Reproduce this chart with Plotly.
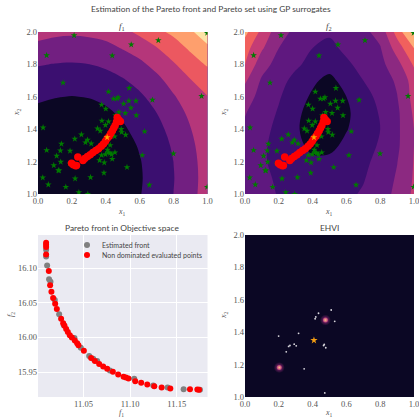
import plotly.graph_objects as go

grid_x1 = [0.0, 0.1, 0.2, 0.3, 0.4, 0.5, 0.6, 0.7, 0.8, 0.9, 1.0]
grid_x2 = [1.0, 1.1, 1.2, 1.3, 1.4, 1.5, 1.6, 1.7, 1.8, 1.9, 2.0]

f1_grid = [
    [.32, .165, .112, .165, .32, .586, .954, 1.428, 2.007, 2.691, 3.45],
    [.284, .127, .074, .127, .284, .548, .916, 1.39, 1.969, 2.653, 3.42],
    [.32, .165, .112, .165, .32, .586, .954, 1.428, 2.007, 2.691, 3.45],
    [.436, .279, .226, .279, .436, .70, 1.068, 1.542, 2.121, 2.805, 3.5],
    [.626, .469, .416, .469, .626, .89, 1.258, 1.732, 2.311, 2.97, 3.6],
    [.82, .72, .67, .72, .86, 1.13, 1.52, 1.998, 2.577, 3.2, 3.75],
    [1.12, 1.03, .98, 1.03, 1.17, 1.45, 1.85, 2.341, 2.92, 3.5, 3.97],
    [1.6, 1.48, 1.442, 1.495, 1.652, 1.916, 2.284, 2.76, 3.35, 3.95, 4.4],
    [2.05, 1.97, 1.937, 1.99, 2.147, 2.411, 2.8, 3.28, 3.9, 4.55, 5.1],
    [2.72, 2.561, 2.508, 2.561, 2.718, 3.05, 3.4, 3.95, 4.55, 5.15, 5.8],
    [3.36, 3.206, 3.15, 3.206, 3.35, 3.72, 4.22, 4.78, 5.2, 5.85, 6.6],
]
f2_grid = [
    [2.85, 2.4, 1.92, 1.78, 1.68, 1.68, 1.82, 2.1, 2.63, 3.2, 4.2],
    [2.7, 2.15, 1.9, 1.7, 1.5, 1.5, 1.7, 1.93, 2.45, 3.1, 4.1],
    [2.6, 2.1, 1.78, 1.47, 1.17, 1.22, 1.5, 1.78, 2.3, 2.97, 4.05],
    [2.7, 2.16, 1.69, 1.23, .78, .75, 1.21, 1.64, 2.1, 2.82, 4.0],
    [2.85, 2.32, 1.73, 1.12, .6, .38, .95, 1.47, 2.0, 2.8, 4.0],
    [3.05, 2.49, 1.9, 1.2, .65, .2, .85, 1.45, 2.08, 2.8, 4.15],
    [3.45, 2.66, 2.09, 1.45, .85, .45, 1.0, 1.62, 2.28, 2.97, 4.35],
    [4.15, 2.86, 2.3, 1.74, 1.17, .72, 1.41, 2.0, 2.47, 3.15, 4.45],
    [5.0, 3.38, 2.64, 2.15, 1.72, 1.42, 1.85, 2.28, 2.71, 3.64, 5.14],
    [5.4, 4.12, 3.0, 2.5, 2.0, 1.78, 2.19, 2.56, 2.93, 4.45, 6.0],
    [6.3, 4.71, 3.41, 2.76, 2.39, 2.12, 2.46, 2.76, 3.35, 5.4, 7.4],
]
band_colors_f1 = ["#0b0724", "#3b0f70", "#721f81", "#b5367a", "#ec5860", "#fe9f6d", "#fde3a7"]
band_colors_f2 = ["#0b0724", "#3b0f70", "#5f187f", "#8c2981", "#c43c75", "#f1605d", "#feac76"]

eval_x1 = [.213, .550, .710, .998, .051, .438, .148, .416, .538, .965, .446, .473, .465, .536, .578, .675, .375, .505, .400, .548, .580, .515, .477, .458, .030, .351, .367, .377, .416, .398, .491, .493, .517, .629, .256, .452, .217, .292, .138, .280, .314, .426, .132, .051, .189, .410, .414, .110, .454, .424, .434, .398, .375, .615, .799, .438, .363, .134, .391, .093, .525, .189, .120, .124, .389, .028, .310, .219, .061, .657, .164, .998, .241, .294]
eval_x2 = [1.979, 1.922, 1.948, 1.994, 1.856, 1.854, 1.687, 1.631, 1.654, 1.604, 1.588, 1.596, 1.588, 1.575, 1.575, 1.581, 1.551, 1.557, 1.526, 1.532, 1.485, 1.499, 1.505, 1.485, 1.410, 1.404, 1.390, 1.452, 1.447, 1.425, 1.400, 1.381, 1.365, 1.386, 1.367, 1.355, 1.340, 1.334, 1.309, 1.318, 1.311, 1.301, 1.268, 1.270, 1.266, 1.272, 1.256, 1.235, 1.256, 1.252, 1.245, 1.245, 1.239, 1.239, 1.249, 1.216, 1.208, 1.198, 1.194, 1.177, 1.165, 1.188, 1.146, 1.144, 1.130, 1.101, 1.103, 1.095, 1.058, 1.056, 1.043, 1.043, 1.010, 1.000]

pareto_x1 = [.467, .486, .476, .463, .455, .447, .439, .429, .420, .408, .398, .386, .373, .357, .341, .324, .308, .292, .276, .265, .235, .198, .208, .222, .227]
pareto_x2 = [1.472, 1.448, 1.458, 1.444, 1.423, 1.407, 1.391, 1.374, 1.356, 1.342, 1.325, 1.309, 1.294, 1.280, 1.268, 1.256, 1.243, 1.231, 1.219, 1.207, 1.229, 1.190, 1.180, 1.174, 1.176]

next_x1 = [.408]
next_x2 = [1.35]

est_f1 = [11.0099, 11.0099, 11.0110, 11.0131, 11.0146, 11.0192, 11.0239, 11.0289, 11.0403, 11.0471, 11.0561, 11.0604, 11.0647, 11.0783, 11.1044, 11.1248, 11.1402, 11.1574, 11.1749]
est_f2 = [16.1266, 16.1169, 16.1039, 16.0840, 16.0806, 16.0540, 16.0337, 16.0177, 15.9993, 15.9853, 15.9732, 15.9693, 15.9659, 15.9524, 15.9403, 15.9306, 15.9277, 15.9253, 15.9243]
nd_f1 = [11.0099, 11.0099, 11.0099, 11.0099, 11.0128, 11.0142, 11.0156, 11.0174, 11.0196, 11.0214, 11.0260, 11.0282, 11.0296, 11.0314, 11.0332, 11.0353, 11.0375, 11.0407, 11.0432, 11.0446, 11.0504, 11.0582, 11.0622, 11.0668, 11.0711, 11.0754, 11.0815, 11.0872, 11.0930, 11.0955, 11.0983, 11.1055, 11.1119, 11.1184, 11.1259, 11.1338, 11.1431, 11.1642, 11.1721, 11.1739]
nd_f2 = [16.1368, 16.1339, 16.1305, 16.1198, 16.0961, 16.0753, 16.0661, 16.0569, 16.0487, 16.0410, 16.0269, 16.0206, 16.0168, 16.0124, 16.0080, 16.0032, 15.9998, 15.9955, 15.9916, 15.9887, 15.9809, 15.9703, 15.9659, 15.9616, 15.9582, 15.9548, 15.9504, 15.9466, 15.9432, 15.9422, 15.9408, 15.9369, 15.9345, 15.9321, 15.9296, 15.9277, 15.9262, 15.9253, 15.9248, 15.9243]

ehvi_peak_x1 = [.476, .203]
ehvi_peak_x2 = [1.475, 1.182]
ehvi_speck_x1 = [.199, .317, .435, .419, .415, .510, .531, .258, .266, .291, .303, .244, .350, .469, .465, .478, .472]
ehvi_speck_x2 = [1.376, 1.393, 1.517, 1.494, 1.483, 1.537, 1.467, 1.312, 1.318, 1.326, 1.316, 1.279, 1.174, 1.324, 1.318, 1.304, 1.025]

title_main = "Estimation of the Pareto front and Pareto set using GP surrogates"
legend_labels = ["Estimated front", "Non dominated evaluated points"]
SERIF = "Liberation Serif"
SANS = "Lato"
TICK = "#555555"
W = 432.0


def step_scale(colors):
    n = len(colors)
    out = []
    for i, c in enumerate(colors):
        out += [[i / n, c], [(i + 1) / n, c]]
    return out


fig = go.Figure()


def add_contour(grid, colors, ax):
    fig.add_trace(go.Contour(x=grid_x1, y=grid_x2, z=grid, xaxis=f"x{ax}", yaxis=f"y{ax}",
                             zmin=0, zmax=7, colorscale=step_scale(colors), showscale=False,
                             contours=dict(coloring="fill", start=1, end=6, size=1),
                             line=dict(width=0, smoothing=1.0), hoverinfo="skip"))
    fig.add_trace(go.Scatter(x=eval_x1, y=eval_x2, mode="markers", xaxis=f"x{ax}", yaxis=f"y{ax}",
                             showlegend=False,
                             marker=dict(symbol="star", size=5, color="#007a00")))
    fig.add_trace(go.Scatter(x=pareto_x1, y=pareto_x2, mode="markers", xaxis=f"x{ax}", yaxis=f"y{ax}",
                             showlegend=False, marker=dict(size=7.5, color="#ff0000")))
    fig.add_trace(go.Scatter(x=next_x1, y=next_x2, mode="markers", xaxis=f"x{ax}", yaxis=f"y{ax}",
                             showlegend=False, marker=dict(symbol="star", size=5, color="#ffa500")))


add_contour(f1_grid, band_colors_f1, "")
add_contour(f2_grid, band_colors_f2, "2")

fig.add_trace(go.Scatter(x=est_f1, y=est_f2, mode="markers", xaxis="x3", yaxis="y3", name=legend_labels[0],
                         showlegend=False, marker=dict(size=6, color="#808080")))
fig.add_trace(go.Scatter(x=nd_f1, y=nd_f2, mode="markers", xaxis="x3", yaxis="y3", name=legend_labels[1],
                         showlegend=False, marker=dict(size=6, color="#ff0000")))

fig.add_trace(go.Scatter(x=ehvi_speck_x1, y=ehvi_speck_x2, mode="markers", xaxis="x4", yaxis="y4", showlegend=False,
                         marker=dict(size=1.8, color="#d8d6dc")))
fig.add_trace(go.Scatter(x=ehvi_peak_x1, y=ehvi_peak_x2, mode="markers", xaxis="x4", yaxis="y4", showlegend=False,
                         marker=dict(size=11, color="#0b0724", line=dict(width=0),
                                     gradient=dict(type="radial", color="#a02c80"))))
fig.add_trace(go.Scatter(x=ehvi_peak_x1, y=ehvi_peak_x2, mode="markers", xaxis="x4", yaxis="y4", showlegend=False,
                         marker=dict(size=5, color="#b5367a", line=dict(width=0),
                                     gradient=dict(type="radial", color="#fdc08a"))))
fig.add_trace(go.Scatter(x=next_x1, y=next_x2, mode="markers", xaxis="x4", yaxis="y4", showlegend=False,
                         marker=dict(symbol="star", size=5.5, color="#f39c12")))


def ax_common(dom, rng, tickvals, ticktext, grid=False, anchor="x"):
    return dict(domain=[dom[0] / W, dom[1] / W], range=rng, tickvals=tickvals, ticktext=ticktext,
                showgrid=grid, gridcolor="white", gridwidth=1, zeroline=False, showline=False, ticks="",
                automargin=False,
                tickfont=dict(family=SERIF, size=8.5, color=TICK), anchor=anchor)


t01 = [0, .2, .4, .6, .8, 1]
t01s = ["0.0", "0.2", "0.4", "0.6", "0.8", "1.0"]
t12 = [1, 1.2, 1.4, 1.6, 1.8, 2]
t12s = ["1.0", "1.2", "1.4", "1.6", "1.8", "2.0"]
xt = "<i>x</i><sub>1</sub>"
yt = "<i>x</i><sub>2</sub>"
ft1 = "<i>f</i><sub>1</sub>"
ft2 = "<i>f</i><sub>2</sub>"
top = (W - 194, W - 32)
bot = (W - 397, W - 235)

anns = []
for text, cx, cy, fam, sz in [(title_main, 211, 9, SANS, 8.4),
                              (ft1, 122, 26, SERIF, 9),
                              (ft2, 329, 26, SERIF, 9),
                              ("Pareto front in Objective space", 122, 228, SANS, 8.4),
                              ("EHVI", 329, 228, SANS, 8.4)]:
    anns.append(dict(text=text, x=cx / W, y=1 - cy / W, xref="paper", yref="paper", showarrow=False,
                     xanchor="center", yanchor="middle", font=dict(family=fam, size=sz, color="#444444")))
for text, cx, cy, rot in [(xt, 122, 212, 0), (yt, 17, 112, -90), (xt, 329, 212, 0), (yt, 224, 112, -90),
                          (ft1, 122, 413, 0), (ft2, 11, 315, -90), (xt, 329, 413, 0), (yt, 224, 315, -90)]:
    anns.append(dict(text=text, x=cx / W, y=1 - cy / W, xref="paper", yref="paper", showarrow=False, textangle=rot,
                     xanchor="center", yanchor="middle", font=dict(family=SERIF, size=8, color=TICK)))
for label, ly in zip(legend_labels, (245, 255)):
    anns.append(dict(text=label, x=99.5 / W, y=1 - ly / W, xref="paper", yref="paper", showarrow=False,
                     xanchor="left", yanchor="middle", font=dict(family=SANS, size=7.0, color="#444444")))

fig.update_layout(
    width=W, height=W, margin=dict(l=0, r=0, t=0, b=0), paper_bgcolor="white", plot_bgcolor="white",
    annotations=anns, showlegend=False,
    xaxis=ax_common((38, 207.5), [0, 1], t01, t01s, anchor="y"),
    yaxis=ax_common(top, [1, 2], t12, t12s, anchor="x"),
    xaxis2=ax_common((245, 414), [0, 1], t01, t01s, anchor="y2"),
    yaxis2=ax_common(top, [1, 2], t12, t12s, anchor="x2"),
    xaxis3=ax_common((38, 207.5), [11.0012, 11.183], [11.05, 11.10, 11.15],
                     ["11.05", "11.10", "11.15"], grid=True, anchor="y3"),
    yaxis3=ax_common(bot, [15.914, 16.148], [15.95, 16.0, 16.05, 16.10],
                     ["15.95", "16.00", "16.05", "16.10"], grid=True, anchor="x3"),
    xaxis4=ax_common((245, 414), [0, 1], t01, t01s, anchor="y4"),
    yaxis4=ax_common(bot, [1, 2], t12, t12s, anchor="x4"),
)
fig.add_shape(type="rect", xref="x4 domain", yref="y4 domain", x0=0, x1=1, y0=0, y1=1,
              fillcolor="#0b0724", line=dict(width=0), layer="below")
fig.add_shape(type="rect", xref="x3 domain", yref="y3 domain", x0=0, x1=1, y0=0, y1=1,
              fillcolor="#eaeaf2", line=dict(width=0), layer="below")
for color, ly in zip(("#808080", "#ff0000"), (245, 255)):
    fig.add_shape(type="circle", xref="paper", yref="paper", x0=84 / W, x1=90 / W,
                  y0=1 - (ly + 3) / W, y1=1 - (ly - 3) / W, fillcolor=color, line=dict(width=0))
fig.write_html("out.html", config={"displayModeBar": False},
               post_script="document.body.style.margin='0';document.documentElement.style.overflow='hidden';")
